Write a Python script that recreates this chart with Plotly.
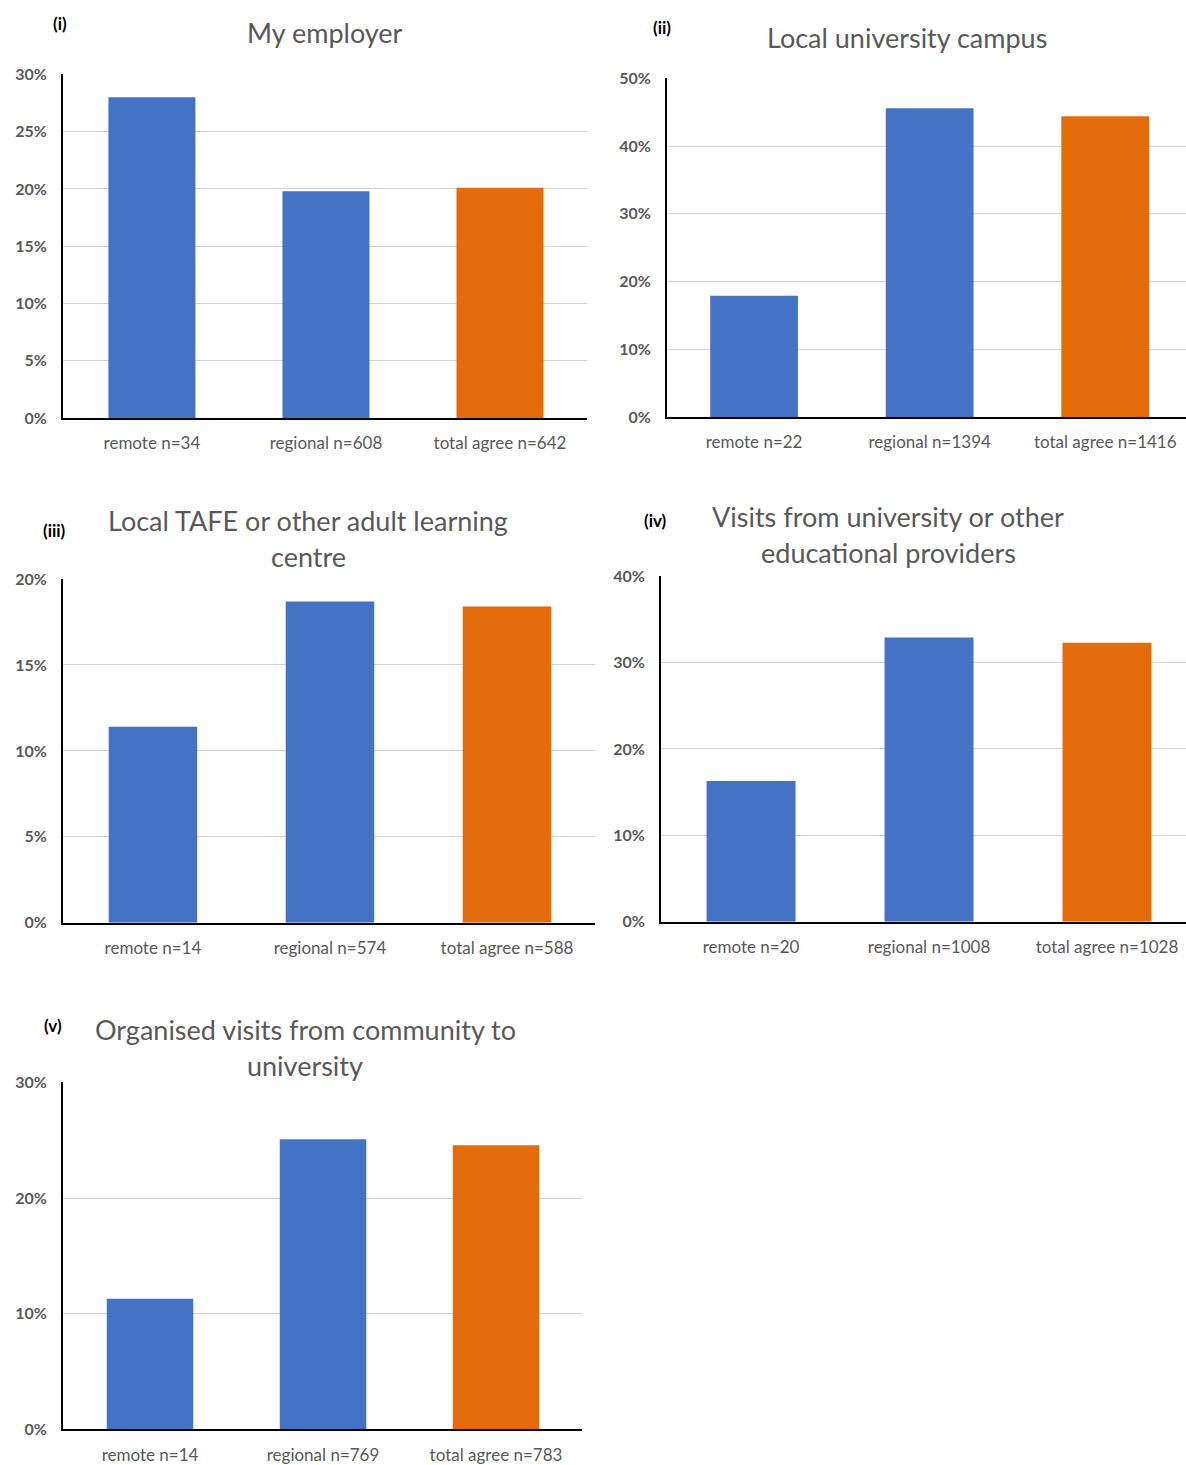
import plotly.graph_objects as go

# Share of respondents agreeing, by respondent group
panel_ids = ["(i)", "(ii)", "(iii)", "(iv)", "(v)"]
panel_titles = [
    ["My employer"],
    ["Local university campus"],
    ["Local TAFE or other adult learning", "centre"],
    ["Visits from university or other", "educational providers"],
    ["Organised visits from community to", "university"],
]
remote_n = [34, 22, 14, 20, 14]
regional_n = [608, 1394, 574, 1008, 769]
total_n = [642, 1416, 588, 1028, 783]
remote_pct = [0.280, 0.179, 0.114, 0.163, 0.113]
regional_pct = [0.198, 0.456, 0.187, 0.329, 0.251]
total_pct = [0.201, 0.444, 0.184, 0.323, 0.246]
y_max = [0.30, 0.50, 0.20, 0.40, 0.30]
y_step = [0.05, 0.10, 0.05, 0.10, 0.10]

W, H = 1186, 1465
FONT = "Lato"
GREY = "#595959"
BLUE = "#4472C4"
ORANGE = "#E46C0A"

# plot boxes in pixels: (left, top, right, bottom), and x range
boxes = [
    (63, 65, 587, 414),
    (667, 69, 1186, 413),
    (63, 577, 595, 926),
    (661, 574, 1186, 925),
    (63, 1088, 582, 1440),
]
x_ranges = [
    (-0.511, 2.50),
    (-0.496, 2.46),
    (-0.508, 2.497),
    (-0.506, 2.444),
    (-0.503, 2.497),
]
# title line positions (centre x, y per line) and panel labels
title_x = [325, 907, 308, 888, 305]
title_y = [[23], [28], [518, 554], [514, 550], [1034, 1071]]
label_pos = [(60, 14), (662, 18), (54, 528), (655, 518), (53, 1030)]


def px(x):
    return x / W


def py(y):
    return 1 - y / H


fig = go.Figure()
annotations = []

for i in range(5):
    ax = "" if i == 0 else str(i + 1)
    cats = [
        f"remote n={remote_n[i]}",
        f"regional n={regional_n[i]}",
        f"total agree n={total_n[i]}",
    ]
    fig.add_trace(
        go.Bar(
            x=[0, 1, 2],
            y=[remote_pct[i], regional_pct[i], total_pct[i]],
            width=0.5,
            marker=dict(color=[BLUE, BLUE, ORANGE], line=dict(width=0)),
            xaxis="x" + ax,
            yaxis="y" + ax,
            showlegend=False,
            hovertemplate="%{y:.1%}<extra></extra>",
        )
    )
    l, t, r, b = boxes[i]
    fig.layout["xaxis" + ax] = dict(
        domain=[px(l), px(r)],
        anchor="y" + ax,
        range=list(x_ranges[i]),
        tickvals=[0, 1, 2],
        ticktext=cats,
        showgrid=False,
        showline=True,
        linecolor="black",
        linewidth=2,
        ticks="",
        ticklabelstandoff=9,
        tickfont=dict(family=FONT, size=17, color=GREY),
        fixedrange=True,
    )
    fig.layout["yaxis" + ax] = dict(
        domain=[py(b), py(t)],
        anchor="x" + ax,
        range=[0, y_max[i] * 1.001],
        dtick=y_step[i],
        tickformat=".0%",
        showgrid=True,
        gridcolor="#d3d3d3",
        gridwidth=1.2,
        zeroline=False,
        showline=True,
        linecolor="black",
        linewidth=2,
        ticks="",
        ticklabelstandoff=11,
        tickfont=dict(family=FONT, size=16, color=GREY, weight="bold"),
        fixedrange=True,
    )
    for line, ty in zip(panel_titles[i], title_y[i]):
        annotations.append(
            dict(
                text=line,
                x=px(title_x[i]),
                y=py(ty),
                xref="paper",
                yref="paper",
                xanchor="center",
                yanchor="middle",
                showarrow=False,
                font=dict(family=FONT, size=27, color=GREY),
            )
        )
    lx, ly = label_pos[i]
    annotations.append(
        dict(
            text="<b>" + panel_ids[i] + "</b>",
            x=px(lx),
            y=py(ly),
            xref="paper",
            yref="paper",
            xanchor="center",
            yanchor="middle",
            showarrow=False,
            font=dict(family=FONT, size=17, color="black"),
        )
    )

fig.update_layout(
    width=W,
    height=H,
    autosize=False,
    margin=dict(l=0, r=0, t=0, b=0),
    paper_bgcolor="white",
    plot_bgcolor="white",
    annotations=annotations,
    bargap=0.5,
)

fig.write_html("out.html")
